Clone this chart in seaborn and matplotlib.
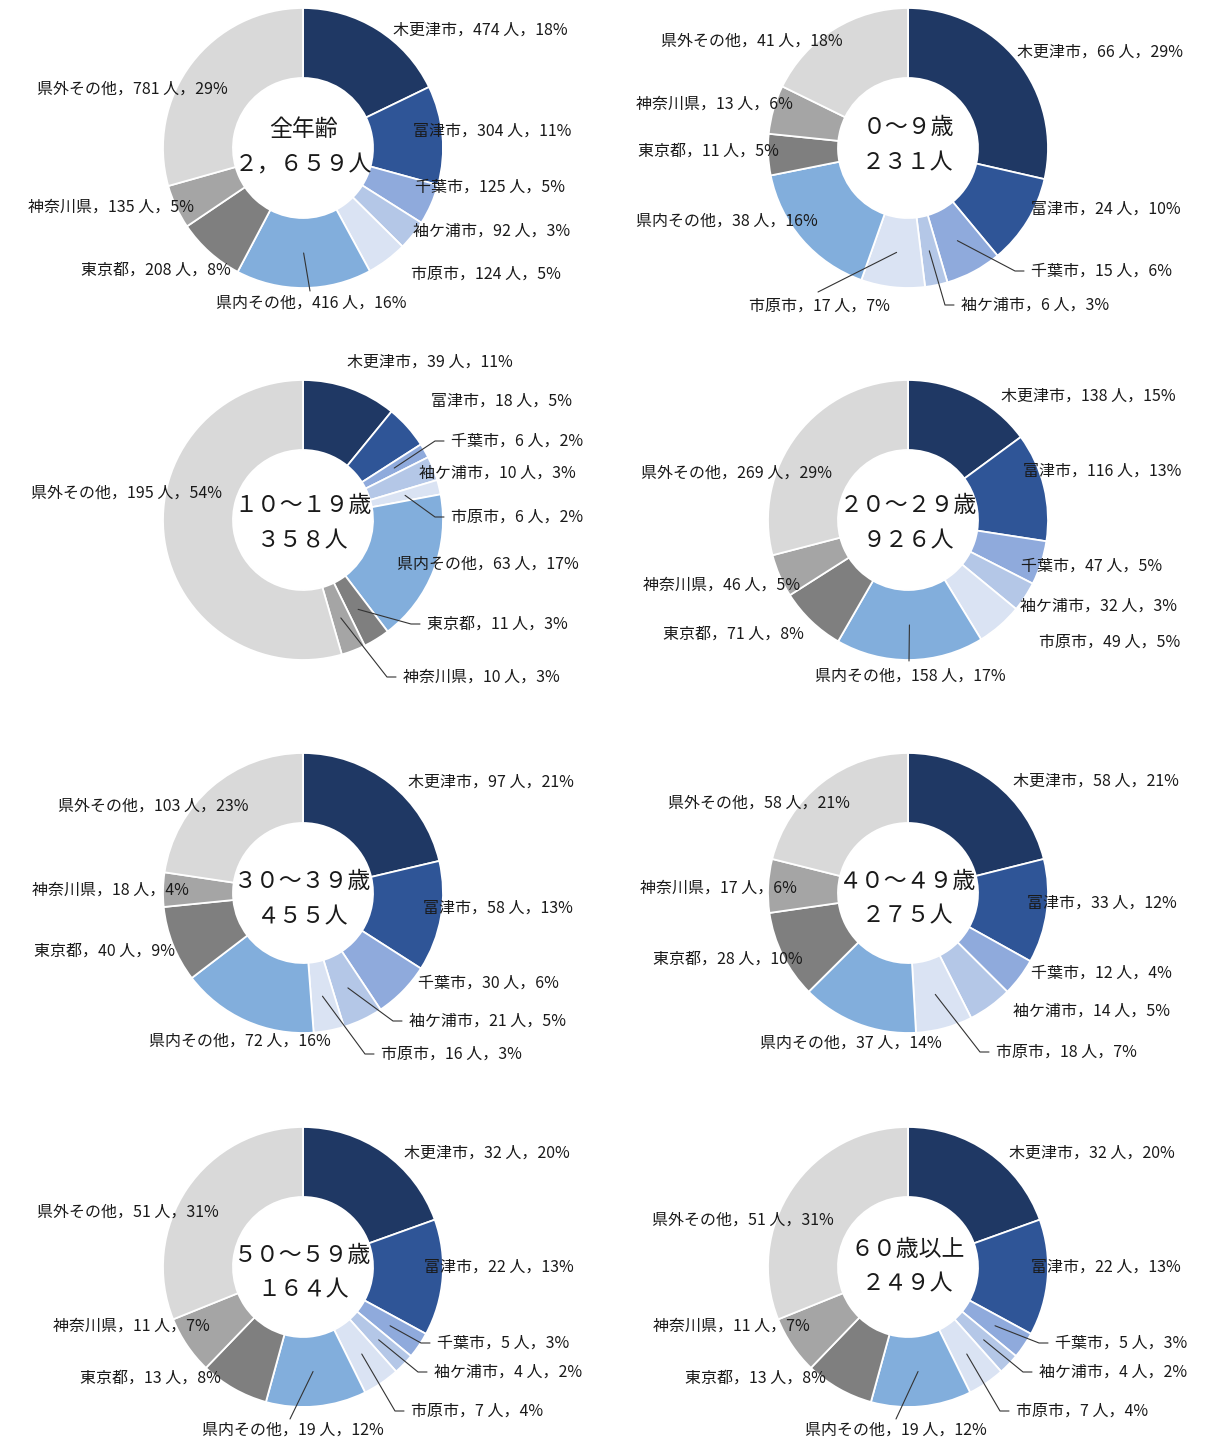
import math

import matplotlib
matplotlib.use("Agg")
import matplotlib.pyplot as plt
import seaborn as sns

# ---- data -------------------------------------------------------------
categories = ["木更津市", "富津市", "千葉市", "袖ケ浦市", "市原市",
              "県内その他", "東京都", "神奈川県", "県外その他"]

age_groups = ["全年齢", "０～９歳", "１０～１９歳", "２０～２９歳",
              "３０～３９歳", "４０～４９歳", "５０～５９歳", "６０歳以上"]
group_totals = [2659, 231, 358, 926, 455, 275, 164, 249]

counts_all = [474, 304, 125, 92, 124, 416, 208, 135, 781]
counts_0_9 = [66, 24, 15, 6, 17, 38, 11, 13, 41]
counts_10_19 = [39, 18, 6, 10, 6, 63, 11, 10, 195]
counts_20_29 = [138, 116, 47, 32, 49, 158, 71, 46, 269]
counts_30_39 = [97, 58, 30, 21, 16, 72, 40, 18, 103]
counts_40_49 = [58, 33, 12, 14, 18, 37, 28, 17, 58]
counts_50_59 = [32, 22, 5, 4, 7, 19, 13, 11, 51]
counts_60_up = [32, 22, 5, 4, 7, 19, 13, 11, 51]

pct_all = [18, 11, 5, 3, 5, 16, 8, 5, 29]
pct_0_9 = [29, 10, 6, 3, 7, 16, 5, 6, 18]
pct_10_19 = [11, 5, 2, 3, 2, 17, 3, 3, 54]
pct_20_29 = [15, 13, 5, 3, 5, 17, 8, 5, 29]
pct_30_39 = [21, 13, 6, 5, 3, 16, 9, 4, 23]
pct_40_49 = [21, 12, 4, 5, 7, 14, 10, 6, 21]
pct_50_59 = [20, 13, 3, 2, 4, 12, 8, 7, 31]
pct_60_up = [20, 13, 3, 2, 4, 12, 8, 7, 31]

group_counts = [counts_all, counts_0_9, counts_10_19, counts_20_29,
                counts_30_39, counts_40_49, counts_50_59, counts_60_up]
group_pcts = [pct_all, pct_0_9, pct_10_19, pct_20_29,
              pct_30_39, pct_40_49, pct_50_59, pct_60_up]

# ---- style ------------------------------------------------------------
sns.set_theme(style="white")
plt.rcParams["font.family"] = ["Noto Sans CJK JP", "DejaVu Sans"]

palette = sns.color_palette(["#1F3864", "#2F5597", "#8FAADC", "#B4C7E7",
                             "#DAE3F3", "#82AEDC", "#7F7F7F", "#A5A5A5",
                             "#D9D9D9"])
TEXT_COLOR = "#1a1a1a"
LINE_COLOR = "#333333"

# ---- layout (figure pixels, y measured from the top) -------------------
W, H = 1214, 1441
R, RING = 140, 70
centers = [(303, 148), (908, 148), (303, 520), (908, 520),
           (303, 893), (908, 893), (303, 1267), (908, 1267)]
# vertical nudge of the centre caption in each donut
caption_shift = [0, -2, 4, 4, 7, 6, 6, 0]

E = "elbow"
label_layout = [
    [(393, 30, "left", None), (413, 131, "left", None), (415, 187, "left", None),
     (413, 231, "left", None), (411, 274, "left", None),
     (311, 303, "center", (310, 291)), (231, 270, "right", None),
     (194, 207, "right", None), (228, 89, "right", None)],
    [(1017, 52, "left", None), (1031, 209, "left", None), (1031, 271, "left", E),
     (961, 305, "left", E), (819, 306, "center", (818, 292)),
     (818, 221, "right", None), (779, 151, "right", None),
     (793, 104, "right", None), (843, 41, "right", None)],
    [(347, 362, "left", None), (431, 401, "left", None), (451, 441, "left", E),
     (419, 473, "left", None), (451, 517, "left", E), (397, 564, "left", None),
     (427, 624, "left", E), (403, 677, "left", E), (222, 493, "right", None)],
    [(1001, 396, "left", None), (1023, 471, "left", None), (1021, 566, "left", None),
     (1020, 606, "left", None), (1039, 642, "left", None),
     (910, 676, "center", (909, 661)), (804, 634, "right", None),
     (800, 585, "right", None), (832, 473, "right", None)],
    [(408, 782, "left", None), (423, 908, "left", None), (418, 983, "left", None),
     (409, 1021, "left", E), (381, 1054, "left", E), (331, 1041, "right", None),
     (175, 951, "right", None), (189, 890, "right", None), (248, 806, "right", None)],
    [(1013, 781, "left", None), (1027, 903, "left", None), (1031, 973, "left", None),
     (1013, 1011, "left", None), (996, 1052, "left", E), (942, 1043, "right", None),
     (803, 959, "right", None), (797, 888, "right", None), (850, 803, "right", None)],
    [(404, 1153, "left", None), (424, 1267, "left", None), (437, 1343, "left", E),
     (434, 1372, "left", E), (411, 1411, "left", E),
     (293, 1430, "center", (290, 1419)), (221, 1378, "right", None),
     (210, 1326, "right", None), (219, 1212, "right", None)],
    [(1009, 1153, "left", None), (1031, 1267, "left", None), (1055, 1343, "left", E),
     (1039, 1372, "left", E), (1016, 1411, "left", E),
     (896, 1430, "center", (896, 1419)), (826, 1378, "right", None),
     (810, 1326, "right", None), (834, 1220, "right", None)],
]

FULLWIDTH = str.maketrans("0123456789", "０１２３４５６７８９")


def fullwidth_total(n):
    return f"{n:,}".replace(",", "，").translate(FULLWIDTH) + "人"


fig = plt.figure(figsize=(W / 100, H / 100), dpi=100)
ax = fig.add_axes([0, 0, 1, 1])

for g, (cx, cy) in enumerate(centers):
    values = group_counts[g]
    pcts = group_pcts[g]
    cyu = H - cy
    wedges, _ = ax.pie(values, colors=palette, startangle=90, counterclock=False,
                       radius=R, center=(cx, cyu),
                       wedgeprops=dict(width=RING, edgecolor="white", linewidth=1.3))

    # centre caption: age group and its total
    cap_y = cyu - caption_shift[g]
    ax.text(cx, cap_y + 18, age_groups[g], ha="center", va="center",
            fontsize=16.5, color=TEXT_COLOR)
    ax.text(cx, cap_y - 17, fullwidth_total(group_totals[g]), ha="center",
            va="center", fontsize=16.5, color=TEXT_COLOR)

    # data labels with optional leader lines
    for i, w in enumerate(wedges):
        lx, ly, ha, leader = label_layout[g][i]
        lyu = H - ly
        text = f"{categories[i]}，{values[i]} 人，{pcts[i]}%"
        ax.text(lx, lyu, text, ha=ha, va="center", fontsize=11.5,
                color=TEXT_COLOR, zorder=5)
        if leader is None:
            continue
        ang = math.radians((w.theta1 + w.theta2) / 2)
        r0 = R - RING / 2
        px, py = cx + r0 * math.cos(ang), cyu + r0 * math.sin(ang)
        if leader == E:
            xs = [px, lx - 16, lx - 7]
            ys = [py, lyu, lyu]
        else:
            xs = [px, leader[0]]
            ys = [py, H - leader[1]]
        ax.plot(xs, ys, color=LINE_COLOR, lw=0.8, zorder=4)

ax.set_xlim(0, W)
ax.set_ylim(0, H)
ax.set_aspect("equal")
ax.axis("off")
fig.savefig("out.png", dpi=100, facecolor="white")
